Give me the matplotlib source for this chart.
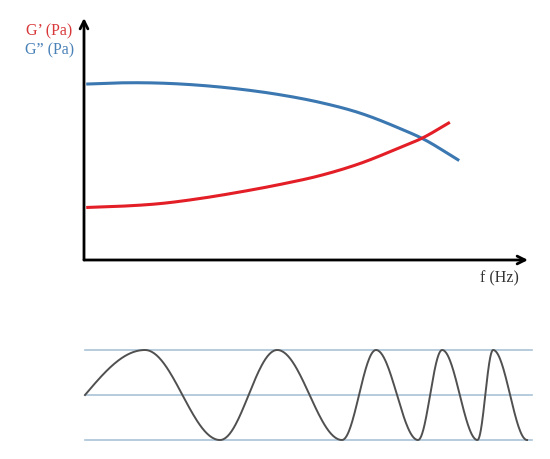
import numpy as np
import matplotlib.pyplot as plt

# frequency sweep (fraction of the f axis) and moduli (fraction of the G axis)
f_loss = [0.005, 0.081, 0.171, 0.261, 0.351, 0.441, 0.532, 0.622, 0.712, 0.761, 0.845]
g_loss = [0.727, 0.732, 0.731, 0.722, 0.706, 0.683, 0.651, 0.607, 0.543, 0.503, 0.411]
f_storage = [0.005, 0.081, 0.171, 0.261, 0.351, 0.441, 0.532, 0.622, 0.712, 0.761, 0.824]
g_storage = [0.217, 0.222, 0.233, 0.254, 0.281, 0.312, 0.349, 0.399, 0.465, 0.503, 0.569]

# chirp signal: times of the extrema and their levels
wave_t = [0.000, 0.134, 0.302, 0.430, 0.575, 0.651, 0.745, 0.799, 0.878, 0.913, 0.989]
wave_y = [0, 1, -1, 1, -1, 1, -1, 1, -1, 1, -1]

RED = '#e31e26'
BLUE = '#3b77b0'

def smooth(xs, ys, n=20):
    # cubic Hermite curve through the read points
    x = np.asarray(xs, float)
    y = np.asarray(ys, float)
    h = np.diff(x)
    d = np.diff(y) / h
    m = np.empty_like(x)
    m[0], m[-1] = d[0], d[-1]
    m[1:-1] = (h[:-1] * d[1:] + h[1:] * d[:-1]) / (h[:-1] + h[1:])
    px, py = [], []
    t = np.linspace(0, 1, n)
    for i in range(len(h)):
        h00 = 2 * t ** 3 - 3 * t ** 2 + 1
        h10 = t ** 3 - 2 * t ** 2 + t
        h01 = -2 * t ** 3 + 3 * t ** 2
        h11 = t ** 3 - t ** 2
        px.append(x[i] + h[i] * t)
        py.append(h00 * y[i] + h10 * h[i] * m[i] + h01 * y[i + 1] + h11 * h[i] * m[i + 1])
    return np.concatenate(px), np.concatenate(py)

def chirp_curve(ts, ys, n=60):
    xs, out = [], []
    for i in range(len(ts) - 1):
        s = np.linspace(0, 1, n)
        if i == 0:
            seg = ys[0] + (ys[1] - ys[0]) * np.sin(np.pi / 2 * s)
        else:
            seg = ys[i] + (ys[i + 1] - ys[i]) * (1 - np.cos(np.pi * s)) / 2
        xs.append(ts[i] + (ts[i + 1] - ts[i]) * s)
        out.append(seg)
    return np.concatenate(xs), np.concatenate(out)

W, H = 550, 459
fig = plt.figure(figsize=(W / 100, H / 100), dpi=100)

# top: moduli vs frequency
ax = fig.add_axes([84 / W, 1 - 260 / H, 444 / W, 242 / H])
ax.set_xlim(0, 1)
ax.set_ylim(0, 1)
ax.axis('off')
ax.plot(*smooth(f_loss, g_loss), color=BLUE, lw=2.2, solid_capstyle='butt')
ax.plot(*smooth(f_storage, g_storage), color=RED, lw=2.2, solid_capstyle='butt')
arrow = dict(arrowstyle='->', lw=2.0, color='black', mutation_scale=14, shrinkA=0, shrinkB=0)
ax.annotate('', xy=(0, 1), xytext=(0, 0), xycoords='axes fraction', arrowprops=arrow)
ax.annotate('', xy=(1, 0), xytext=(0, 0), xycoords='axes fraction', arrowprops=arrow)

serif = 'Liberation Serif'
fig.text(26 / W, 1 - 31 / H, 'G’ (Pa)', color='#d8383a', fontsize=11.5, family=serif,
         ha='left', va='center')
fig.text(25 / W, 1 - 50 / H, 'G” (Pa)', color='#4a82b8', fontsize=11.5, family=serif,
         ha='left', va='center')
fig.text(499 / W, 1 - 278 / H, 'f (Hz)', color='#333333', fontsize=11.5, family=serif,
         ha='center', va='center')

# bottom: oscillation signal
bx = fig.add_axes([85 / W, 1 - 440 / H, 447 / W, 90 / H])
bx.set_xlim(0, 1)
bx.set_ylim(-1, 1)
bx.axis('off')
for level in [-1, 0, 1]:
    bx.axhline(level, color='#a9c2d6', lw=1.2, clip_on=False)
tx, ty = chirp_curve(wave_t, wave_y)
bx.plot(tx, ty, color='#505050', lw=1.4, clip_on=False)

plt.savefig('out.png', dpi=100)
